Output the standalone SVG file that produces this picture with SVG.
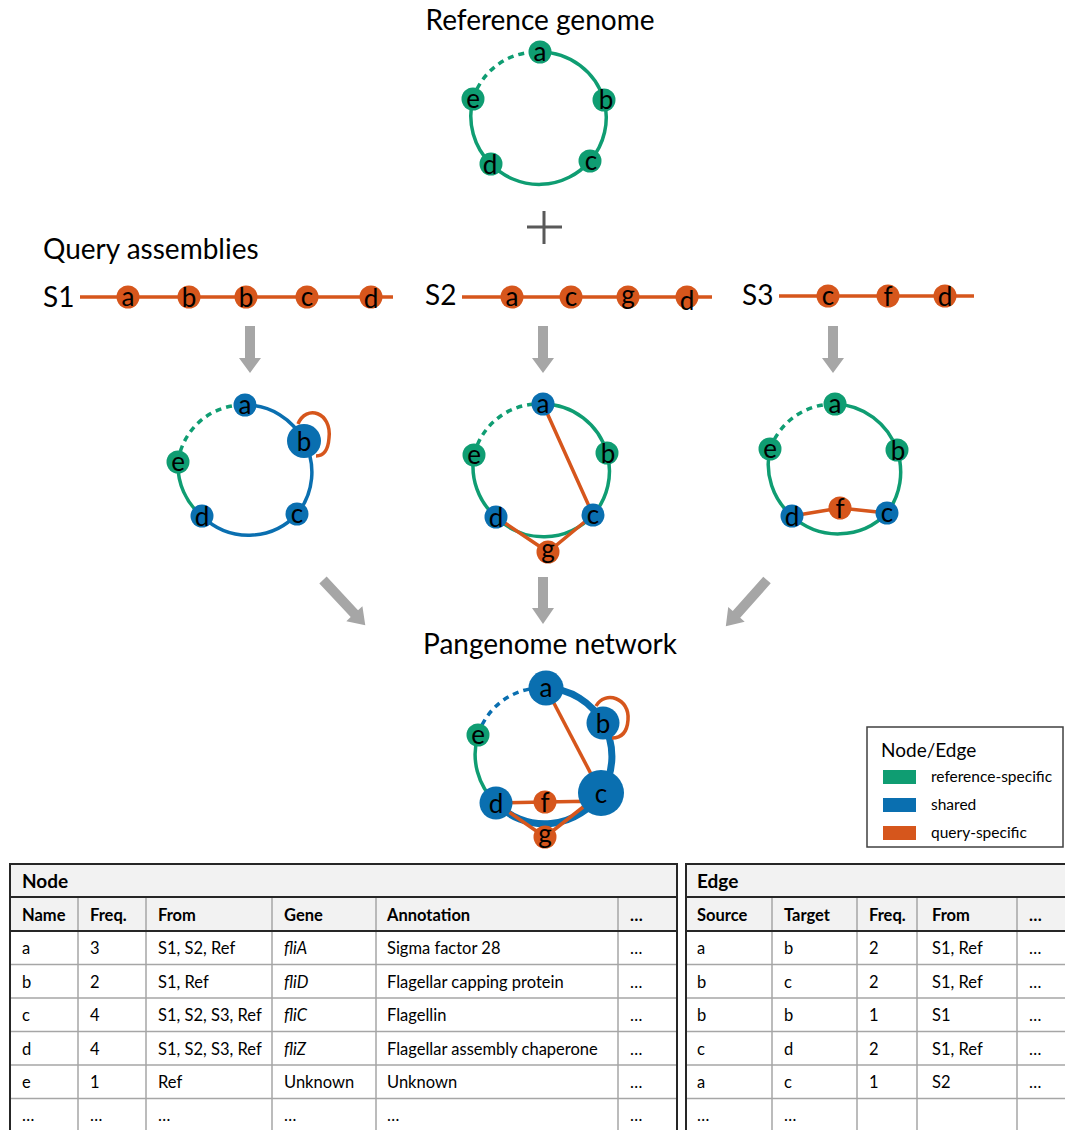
<svg xmlns="http://www.w3.org/2000/svg" width="1065" height="1130" viewBox="0 0 1065 1130">
<style>
text{font-family:Lato,"Open Sans","Liberation Sans",sans-serif;fill:#000}
.title{font-size:28px}
.lbl{font-size:26px;text-anchor:middle}
.g{fill:#0F9D72}.b{fill:#0A6FB0}.o{fill:#D6561C}
.eg{stroke:#0F9D72;stroke-width:3.5;fill:none}
.eb{stroke:#0A6FB0;stroke-width:3.5;fill:none}
.ebt{stroke:#0A6FB0;stroke-width:7;fill:none}
.eo{stroke:#D6561C;stroke-width:3.5;fill:none}
.dash{stroke-dasharray:6 5}
.arr{fill:#A6A6A6}
.td{font-size:16.5px}
.th{font-size:16.5px;font-weight:bold}
.tt{font-size:19px;font-weight:bold}
.hdr{fill:#F2F2F2}
.gl{stroke:#A6A6A6;stroke-width:1.5}
.dl{stroke:#262626;stroke-width:2}
</style>

<!-- titles -->
<text class="title" x="540" y="30" text-anchor="middle">Reference genome</text>
<text class="title" x="43" y="259">Query assemblies</text>
<text class="title" x="550" y="654" text-anchor="middle">Pangenome network</text>
<path d="M527 227H562M544 211V244" stroke="#595959" stroke-width="3" fill="none"/>

<!-- Reference genome -->
<g id="ref-edges">
<path class="eg dash" d="M473 99A67 67 0 0 1 540 52"/>
<path class="eg" d="M540 52A67 67 0 0 1 604 100A67 67 0 0 1 590 161A67 67 0 0 1 491 164A67 67 0 0 1 473 99"/>
</g>
<g id="ref-a"><circle class="g" cx="540" cy="52" r="11.5"/><text class="lbl" x="540" y="61">a</text></g>
<g id="ref-b"><circle class="g" cx="604" cy="100" r="11.5"/><text class="lbl" x="606" y="109">b</text></g>
<g id="ref-c"><circle class="g" cx="590" cy="161" r="11.5"/><text class="lbl" x="591" y="170">c</text></g>
<g id="ref-d"><circle class="g" cx="491" cy="164" r="11.5"/><text class="lbl" x="490" y="174">d</text></g>
<g id="ref-e"><circle class="g" cx="473" cy="99" r="11.5"/><text class="lbl" x="473" y="108">e</text></g>

<!-- Query assemblies -->
<text class="title" x="43" y="307">S1</text>
<text class="title" x="425" y="305">S2</text>
<text class="title" x="742" y="305">S3</text>
<g id="query-lines">
<path class="eo" d="M80 297H393M462 297H712M779 296H974"/>
</g>
<g id="s1-a"><circle class="o" cx="128" cy="297" r="11.5"/><text class="lbl" x="128" y="306">a</text></g>
<g id="s1-b1"><circle class="o" cx="189" cy="297" r="11.5"/><text class="lbl" x="189" y="307">b</text></g>
<g id="s1-b2"><circle class="o" cx="246" cy="297" r="11.5"/><text class="lbl" x="246" y="307">b</text></g>
<g id="s1-c"><circle class="o" cx="307" cy="297" r="11.5"/><text class="lbl" x="307" y="306">c</text></g>
<g id="s1-d"><circle class="o" cx="371" cy="297" r="11.5"/><text class="lbl" x="371" y="308">d</text></g>
<g id="s2-a"><circle class="o" cx="512" cy="297" r="11.5"/><text class="lbl" x="512" y="306">a</text></g>
<g id="s2-c"><circle class="o" cx="571" cy="297" r="11.5"/><text class="lbl" x="571" y="306">c</text></g>
<g id="s2-g"><circle class="o" cx="628" cy="297" r="11.5"/><text class="lbl" x="628" y="304">g</text></g>
<g id="s2-d"><circle class="o" cx="687" cy="297" r="11.5"/><text class="lbl" x="687" y="310">d</text></g>
<g id="s3-c"><circle class="o" cx="828" cy="296" r="11.5"/><text class="lbl" x="828" y="305">c</text></g>
<g id="s3-f"><circle class="o" cx="888" cy="296" r="11.5"/><text class="lbl" x="888" y="306">f</text></g>
<g id="s3-d"><circle class="o" cx="945" cy="296" r="11.5"/><text class="lbl" x="945" y="306">d</text></g>

<!-- arrows -->
<g id="arrows">
<polygon class="arr" points="245,326 255,326 255,358 261,358 250,373 239,358 245,358"/>
<polygon class="arr" points="538,326 548,326 548,358 554,358 543,373 532,358 538,358"/>
<polygon class="arr" points="828,326 838,326 838,358 844,358 833,373 822,358 828,358"/>
<polygon class="arr" points="538,577 548,577 548,608 554,608 543,624 532,608 538,608"/>
<polygon class="arr" transform="translate(323 580) rotate(47)" points="0,-5 46,-5 46,-11 62,0 46,11 46,5 0,5"/>
<polygon class="arr" transform="translate(767 580) rotate(131.6)" points="0,-5 46,-5 46,-11 62,0 46,11 46,5 0,5"/>
</g>

<!-- S1 graph -->
<g id="s1-edges">
<path class="eg dash" d="M178 462A66 66 0 0 1 245 405"/>
<path class="eb" d="M245 405A66 66 0 0 1 304 441A66 66 0 0 1 297 514A66 66 0 0 1 202 516"/>
<path class="eg" d="M202 516A66 66 0 0 1 178 462"/>
<path class="eo" d="M298 424C306 404 332 412 329 438C328 452 322 456 316 456"/>
</g>
<g id="s1g-a"><circle class="b" cx="245" cy="405" r="11.5"/><text class="lbl" x="245" y="414">a</text></g>
<g id="s1g-b"><circle class="b" cx="304" cy="441" r="17"/><text class="lbl" x="304" y="451">b</text></g>
<g id="s1g-c"><circle class="b" cx="297" cy="514" r="11.5"/><text class="lbl" x="297" y="523">c</text></g>
<g id="s1g-d"><circle class="b" cx="202" cy="516" r="11.5"/><text class="lbl" x="202" y="526">d</text></g>
<g id="s1g-e"><circle class="g" cx="178" cy="462" r="11.5"/><text class="lbl" x="178" y="471">e</text></g>

<!-- S2 graph -->
<g id="s2-edges">
<path class="eg dash" d="M474 455A67 67 0 0 1 543 404"/>
<path class="eg" d="M543 404A67 67 0 0 1 607 453A67 67 0 0 1 593 515A67 67 0 0 1 496 517A67 67 0 0 1 474 455"/>
<path class="eo" d="M543 404L593 515M496 517L548 552L593 515"/>
</g>
<g id="s2g-a"><circle class="b" cx="543" cy="404" r="11.5"/><text class="lbl" x="543" y="413">a</text></g>
<g id="s2g-b"><circle class="g" cx="607" cy="453" r="11.5"/><text class="lbl" x="608" y="463">b</text></g>
<g id="s2g-c"><circle class="b" cx="593" cy="515" r="11.5"/><text class="lbl" x="593" y="524">c</text></g>
<g id="s2g-d"><circle class="b" cx="496" cy="517" r="11.5"/><text class="lbl" x="496" y="527">d</text></g>
<g id="s2g-e"><circle class="g" cx="474" cy="455" r="11.5"/><text class="lbl" x="474" y="464">e</text></g>
<g id="s2g-g"><circle class="o" cx="548" cy="552" r="11.5"/><text class="lbl" x="548" y="558">g</text></g>

<!-- S3 graph -->
<g id="s3-edges">
<path class="eg dash" d="M770 449A68 68 0 0 1 835 404"/>
<path class="eg" d="M835 404A68 68 0 0 1 897 450A68 68 0 0 1 887 513A68 68 0 0 1 792 516A68 68 0 0 1 770 449"/>
<path class="eo" d="M792 516L840 508L887 513"/>
</g>
<g id="s3g-a"><circle class="g" cx="835" cy="404" r="11.5"/><text class="lbl" x="835" y="413">a</text></g>
<g id="s3g-b"><circle class="g" cx="897" cy="450" r="11.5"/><text class="lbl" x="898" y="460">b</text></g>
<g id="s3g-c"><circle class="b" cx="887" cy="513" r="11.5"/><text class="lbl" x="887" y="522">c</text></g>
<g id="s3g-d"><circle class="b" cx="792" cy="516" r="11.5"/><text class="lbl" x="792" y="526">d</text></g>
<g id="s3g-e"><circle class="g" cx="770" cy="449" r="11.5"/><text class="lbl" x="770" y="458">e</text></g>
<g id="s3g-f"><circle class="o" cx="840" cy="508" r="11.5"/><text class="lbl" x="840" y="518">f</text></g>

<!-- Pangenome network -->
<g id="pan-edges">
<path class="eb dash" d="M478 735A67 67 0 0 1 546 688"/>
<path class="ebt" d="M546 688A67 67 0 0 1 603 723A67 67 0 0 1 601 793A67 67 0 0 1 496 803"/>
<path class="eg" d="M496 803A67 67 0 0 1 478 735"/>
<path class="eo" stroke-width="3" d="M546 688L601 793"/>
<path class="eo" d="M496 803L545 802L601 801M496 803L545 837L601 793"/>
<path class="eo" d="M596 706C605 690 630 698 628 720C627 734 620 738 612 738"/>
</g>
<g id="pan-a"><circle class="b" cx="546" cy="688" r="17.5"/><text class="lbl" x="546" y="697">a</text></g>
<g id="pan-b"><circle class="b" cx="603" cy="723" r="16.5"/><text class="lbl" x="603" y="733">b</text></g>
<g id="pan-c"><circle class="b" cx="601" cy="793" r="23"/><text class="lbl" x="601" y="803">c</text></g>
<g id="pan-d"><circle class="b" cx="496" cy="803" r="16.5"/><text class="lbl" x="496" y="813">d</text></g>
<g id="pan-e"><circle class="g" cx="478" cy="735" r="11.5"/><text class="lbl" x="478" y="744">e</text></g>
<g id="pan-f"><circle class="o" cx="545" cy="802" r="11.5"/><text class="lbl" x="545" y="812">f</text></g>
<g id="pan-g"><circle class="o" cx="545" cy="837" r="11.5"/><text class="lbl" x="545" y="843">g</text></g>

<!-- legend -->
<g id="legend">
<rect x="867" y="727" width="196" height="120" fill="#fff" stroke="#404040" stroke-width="1.5"/>
<text x="881" y="757" font-size="19">Node/Edge</text>
<rect class="g" x="883" y="770" width="33" height="14"/>
<rect class="b" x="883" y="798" width="33" height="14"/>
<rect class="o" x="883" y="826" width="33" height="14"/>
<text x="931" y="782" font-size="15.5">reference-specific</text>
<text x="931" y="810" font-size="15.5">shared</text>
<text x="931" y="838" font-size="15.5">query-specific</text>
</g>

<!-- Node table -->
<g id="node-table">
<rect class="hdr" x="10" y="864" width="667" height="67"/>
<rect x="10" y="931" width="667" height="205" fill="#fff"/>
<path class="gl" d="M10 964.5H677M10 998H677M10 1031.5H677M10 1065H677M10 1098.5H677M78 897V1130M146 897V1130M272 897V1130M376 897V1130M618 897V1130"/>
<path class="dl" d="M10 897H677M10 931H677"/>
<path class="dl" fill="none" d="M10 1132V864H677V1132"/>
<text class="tt" x="22" y="888">Node</text>
<text class="th" x="22" y="921">Name</text>
<text class="th" x="90" y="921">Freq.</text>
<text class="th" x="158" y="921">From</text>
<text class="th" x="284" y="921">Gene</text>
<text class="th" x="387" y="921">Annotation</text>
<text class="th" x="630" y="921">…</text>
<g class="td">
<text x="22" y="954">a</text><text x="90" y="954">3</text><text x="158" y="954">S1, S2, Ref</text><text x="284" y="954" font-style="italic">fliA</text><text x="387" y="954">Sigma factor 28</text><text x="630" y="954">…</text>
<text x="22" y="988">b</text><text x="90" y="988">2</text><text x="158" y="988">S1, Ref</text><text x="284" y="988" font-style="italic">fliD</text><text x="387" y="988">Flagellar capping protein</text><text x="630" y="988">…</text>
<text x="22" y="1021">c</text><text x="90" y="1021">4</text><text x="158" y="1021">S1, S2, S3, Ref</text><text x="284" y="1021" font-style="italic">fliC</text><text x="387" y="1021">Flagellin</text><text x="630" y="1021">…</text>
<text x="22" y="1055">d</text><text x="90" y="1055">4</text><text x="158" y="1055">S1, S2, S3, Ref</text><text x="284" y="1055" font-style="italic">fliZ</text><text x="387" y="1055">Flagellar assembly chaperone</text><text x="630" y="1055">…</text>
<text x="22" y="1088">e</text><text x="90" y="1088">1</text><text x="158" y="1088">Ref</text><text x="284" y="1088">Unknown</text><text x="387" y="1088">Unknown</text><text x="630" y="1088">…</text>
<text x="22" y="1121">…</text><text x="90" y="1121">…</text><text x="158" y="1121">…</text><text x="284" y="1121">…</text><text x="387" y="1121">…</text><text x="630" y="1121">…</text>
</g>
</g>

<!-- Edge table -->
<g id="edge-table">
<rect class="hdr" x="686" y="864" width="385" height="67"/>
<rect x="686" y="931" width="385" height="205" fill="#fff"/>
<path class="gl" d="M686 964.5H1070M686 998H1070M686 1031.5H1070M686 1065H1070M686 1098.5H1070M772 897V1130M857 897V1130M917 897V1130M1017 897V1130"/>
<path class="dl" d="M686 897H1070M686 931H1070"/>
<path class="dl" fill="none" d="M686 1132V864H1070"/>
<text class="tt" x="697" y="888">Edge</text>
<text class="th" x="697" y="921">Source</text>
<text class="th" x="784" y="921">Target</text>
<text class="th" x="869" y="921">Freq.</text>
<text class="th" x="932" y="921">From</text>
<text class="th" x="1029" y="921">…</text>
<g class="td">
<text x="697" y="954">a</text><text x="784" y="954">b</text><text x="869" y="954">2</text><text x="932" y="954">S1, Ref</text><text x="1029" y="954">…</text>
<text x="697" y="988">b</text><text x="784" y="988">c</text><text x="869" y="988">2</text><text x="932" y="988">S1, Ref</text><text x="1029" y="988">…</text>
<text x="697" y="1021">b</text><text x="784" y="1021">b</text><text x="869" y="1021">1</text><text x="932" y="1021">S1</text><text x="1029" y="1021">…</text>
<text x="697" y="1055">c</text><text x="784" y="1055">d</text><text x="869" y="1055">2</text><text x="932" y="1055">S1, Ref</text><text x="1029" y="1055">…</text>
<text x="697" y="1088">a</text><text x="784" y="1088">c</text><text x="869" y="1088">1</text><text x="932" y="1088">S2</text><text x="1029" y="1088">…</text>
<text x="697" y="1121">…</text><text x="784" y="1121">…</text>
</g>
</g>
</svg>
